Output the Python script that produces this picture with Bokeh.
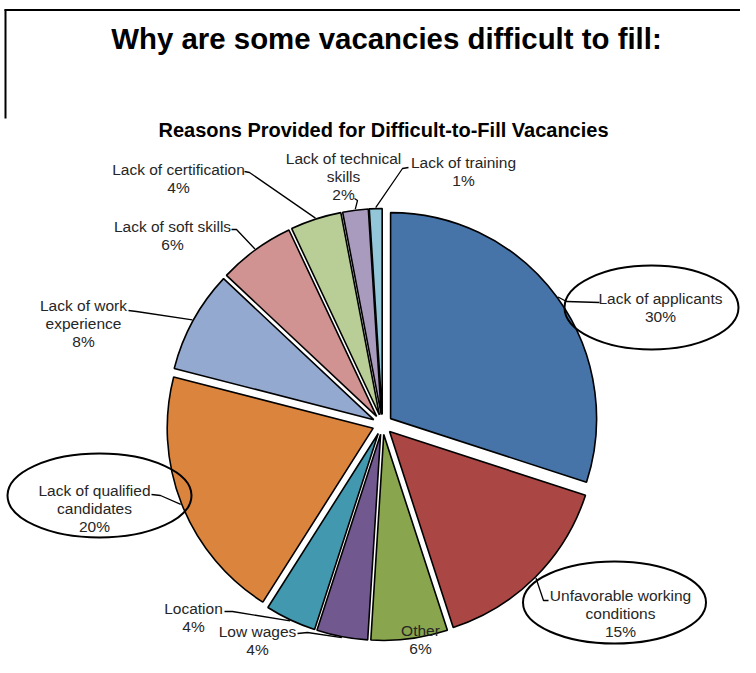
import math
from bokeh.plotting import figure
from bokeh.models import Range1d
from bokeh.embed import file_html
from bokeh.resources import INLINE
from bokeh.core.properties import value

# ---------------- data ----------------
categories = ["Lack of applicants", "Unfavorable working conditions", "Other",
              "Low wages", "Location", "Lack of qualified candidates",
              "Lack of work experience", "Lack of soft skills",
              "Lack of certification", "Lack of technical skills",
              "Lack of training"]
values = [30, 15, 6, 4, 4, 20, 8, 6, 4, 2, 1]
colors = ["#4674A9", "#AA4643", "#89A54E", "#71588F", "#4198AF", "#DB843D",
          "#93A9CF", "#D19392", "#B9CD96", "#A99BBD", "#93C6D8"]

# label line breaks (layout)
label_lines = [["Lack of applicants"],
               ["Unfavorable working", "conditions"],
               ["Other"],
               ["Low wages"],
               ["Location"],
               ["Lack of qualified", "candidates"],
               ["Lack of work", "experience"],
               ["Lack of soft skills"],
               ["Lack of certification"],
               ["Lack of technical", "skills"],
               ["Lack of training"]]

# ---------------- layout (screen pixel coordinates) ----------------
W, H = 740, 657
CX, CY = 382, 424      # pie centre
R = 206                # pie radius
EXPLODE = 10
LINE_H = 18.2
label_pos = [(660, 298), (620, 595), (420, 630), (257, 631), (193, 608),
             (94, 490), (83, 305), (172, 226), (178, 169), (343, 158),
             (463, 162)]
leader_pts = [[(599, 302), (566, 301)],
              [(548, 600), (543, 600)],
              None,
              [(297, 633), (307, 632)],
              [(224, 611), (232, 611)],
              [(151, 494), (160, 495)],
              [(128, 310), (136, 311)],
              [(231, 229), (236, 229)],
              [(244, 171), (249, 172)],
              [(354, 198), (357, 200)],
              [(408, 167), (402, 168)]]
ellipses = [0, 1, 5]   # labels that have an ellipse drawn round them
ellipse_geom = {0: (651, 307, 174, 84), 1: (614, 602, 183, 82), 5: (99, 495, 184, 84)}

FONT = value("Liberation Sans")

p = figure(width=W, height=H, output_backend="svg", toolbar_location=None,
           x_range=Range1d(0, W), y_range=Range1d(-H, 0),
           x_axis_location=None, y_axis_location=None, min_border=0)
p.outline_line_color = None
p.xgrid.visible = False
p.ygrid.visible = False
p.background_fill_color = "white"

total = float(sum(values))
cum = 0.0
xs, ys, starts, ends, mids = [], [], [], [], []
for v in values:
    a0 = cum / total * 2 * math.pi
    cum += v
    a1 = cum / total * 2 * math.pi
    m = (a0 + a1) / 2
    mids.append(m)
    ax = CX + EXPLODE * math.sin(m)
    ay = CY - EXPLODE * math.cos(m)
    xs.append(ax)
    ys.append(-ay)
    starts.append(math.pi / 2 - a0)
    ends.append(math.pi / 2 - a1)

p.wedge(x=xs, y=ys, radius=R, start_angle=starts, end_angle=ends,
        direction="clock", fill_color=colors, line_color="black", line_width=1.6)

# leader lines
lx, ly = [], []
for i, pts in enumerate(leader_pts):
    if pts is None:
        continue
    m = mids[i]
    ex = xs[i] + (R + 1) * math.sin(m)
    ey = -ys[i] - (R + 1) * math.cos(m)
    px = [q[0] for q in pts] + [ex]
    py = [-q[1] for q in pts] + [-ey]
    lx.append(px)
    ly.append(py)
p.multi_line(xs=lx, ys=ly, line_color="black", line_width=1.3)

# ellipses
for i in ellipses:
    ex, ey, ew, eh = ellipse_geom[i]
    p.ellipse(x=[ex], y=[-ey], width=[ew], height=[eh], fill_color=None,
              line_color="black", line_width=2)

# labels
tx, ty, tt = [], [], []
for i, lines in enumerate(label_lines):
    allines = lines + ["%d%%" % values[i]]
    x0, y0 = label_pos[i]
    for k, t in enumerate(allines):
        tx.append(x0)
        ty.append(-(y0 + k * LINE_H))
        tt.append(t)
p.text(x=tx, y=ty, text=tt, text_font=FONT, text_font_size="15.5px",
       text_color="#262626", text_align="center", text_baseline="middle")

# titles
p.text(x=[386], y=[-38], text=["Why are some vacancies difficult to fill:"],
       text_font=FONT, text_font_size="29.4px", text_font_style="bold",
       text_color="black", text_align="center", text_baseline="middle")
p.text(x=[383], y=[-129], text=["Reasons Provided for Difficult-to-Fill Vacancies"],
       text_font=FONT, text_font_size="20px", text_font_style="bold",
       text_color="black", text_align="center", text_baseline="middle")

# frame lines
p.line(x=[4, 740], y=[-9.5, -9.5], line_color="black", line_width=2)
p.line(x=[5, 5], y=[-9, -118], line_color="black", line_width=2)

open("out.html", "w").write(file_html(p, INLINE))
